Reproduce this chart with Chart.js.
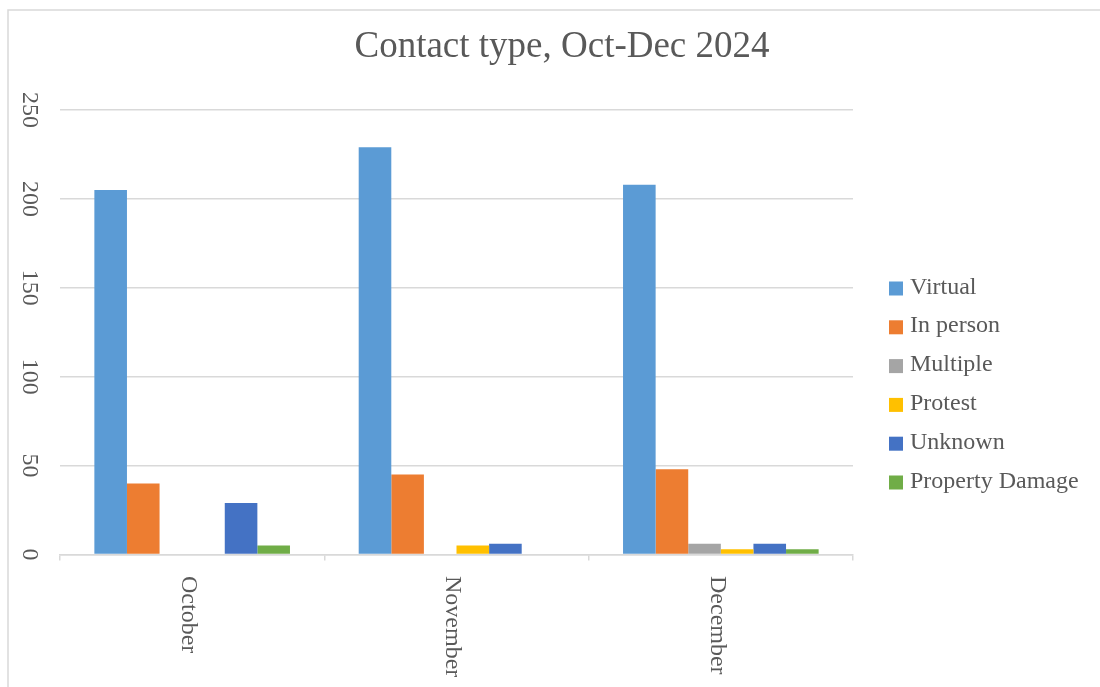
<!DOCTYPE html>
<html>
<head>
<meta charset="utf-8">
<script src="https://cdn.jsdelivr.net/npm/chart.js@4/dist/chart.umd.min.js"></script>
<style>
  body { margin: 0; background: #fff; }
  #wrap { width: 1100px; height: 687px; position: relative; }
</style>
</head>
<body>
<div id="wrap"><canvas id="contactChart"></canvas></div>
<script>
const months = ["October", "November", "December"];
const yTicks = [0, 50, 100, 150, 200, 250];

const virtual = [205, 229, 208];
const inPerson = [40, 45, 48];
const multiple = [0, 0, 6];
const protest = [0, 5, 3];
const unknown = [29, 6, 6];
const propertyDamage = [5, 0, 3];

const seriesNames = ["Virtual", "In person", "Multiple", "Protest", "Unknown", "Property Damage"];
const seriesColors = ["#5B9BD5", "#ED7D31", "#A5A5A5", "#FFC000", "#4472C4", "#70AD47"];
const seriesData = [virtual, inPerson, multiple, protest, unknown, propertyDamage];

const FONT = "'Liberation Serif', 'Times New Roman', serif";
const TEXT = "#595959";
const GRID = "#d9d9d9";

// title, rotated tick labels, legend and outer frame are painted by hand
const decorations = {
  id: "decorations",
  beforeDraw(chart) {
    const ctx = chart.ctx;
    ctx.save();
    ctx.strokeStyle = GRID;
    ctx.lineWidth = 1.5;
    ctx.beginPath();
    ctx.moveTo(8, 687);
    ctx.lineTo(8, 10);
    ctx.lineTo(1100, 10);
    ctx.stroke();
    ctx.restore();
  },
  afterDraw(chart) {
    const ctx = chart.ctx;
    const x = chart.scales.x;
    const y = chart.scales.y;
    ctx.save();
    ctx.fillStyle = TEXT;

    // title
    ctx.font = "37px " + FONT;
    ctx.textAlign = "center";
    ctx.textBaseline = "alphabetic";
    ctx.fillText("Contact type, Oct-Dec 2024", 562, 57);

    // value axis labels, turned clockwise
    ctx.font = "24px " + FONT;
    yTicks.forEach(v => {
      ctx.save();
      ctx.translate(29, y.getPixelForValue(v));
      ctx.rotate(Math.PI / 2);
      ctx.textAlign = "center";
      ctx.textBaseline = "middle";
      ctx.fillText(String(v), 0, 0);
      ctx.restore();
    });

    // month labels, turned clockwise
    months.forEach((m, i) => {
      ctx.save();
      ctx.translate(x.getPixelForTick(i) - 4, 576);
      ctx.rotate(Math.PI / 2);
      ctx.textAlign = "left";
      ctx.textBaseline = "middle";
      ctx.fillText(m, 0, 0);
      ctx.restore();
    });

    // legend
    chart.data.datasets.forEach((ds, i) => {
      const cy = 288.5 + i * 38.8;
      ctx.fillStyle = ds.backgroundColor;
      ctx.fillRect(889, cy - 7, 14, 14);
      ctx.fillStyle = TEXT;
      ctx.textAlign = "left";
      ctx.textBaseline = "alphabetic";
      ctx.fillText(ds.label, 910, cy + 5);
    });
    ctx.restore();
  }
};

new Chart(document.getElementById("contactChart"), {
  type: "bar",
  data: {
    labels: months,
    datasets: seriesNames.map((name, i) => ({
      label: name,
      data: seriesData[i],
      backgroundColor: seriesColors[i],
      borderWidth: 0,
      barPercentage: 1,
      categoryPercentage: 0.74
    }))
  },
  options: {
    responsive: true,
    maintainAspectRatio: false,
    animation: false,
    layout: { padding: { left: 60, top: 110, right: 247, bottom: 112.5 } },
    plugins: {
      legend: { display: false },
      title: { display: false },
      tooltip: { enabled: false }
    },
    scales: {
      x: {
        offset: true,
        afterFit: s => { s.height = 20; },
        ticks: { display: false },
        grid: {
          offset: true,
          drawOnChartArea: false,
          drawTicks: true,
          tickLength: 6,
          color: GRID,
          lineWidth: 1.5
        },
        border: { color: GRID, width: 1.5 }
      },
      y: {
        min: 0,
        max: 250,
        afterFit: s => { s.width = 0; },
        ticks: { display: false, stepSize: 50 },
        grid: { color: GRID, lineWidth: 1.5, drawTicks: false },
        border: { display: false }
      }
    }
  },
  plugins: [decorations]
});
</script>
</body>
</html>
